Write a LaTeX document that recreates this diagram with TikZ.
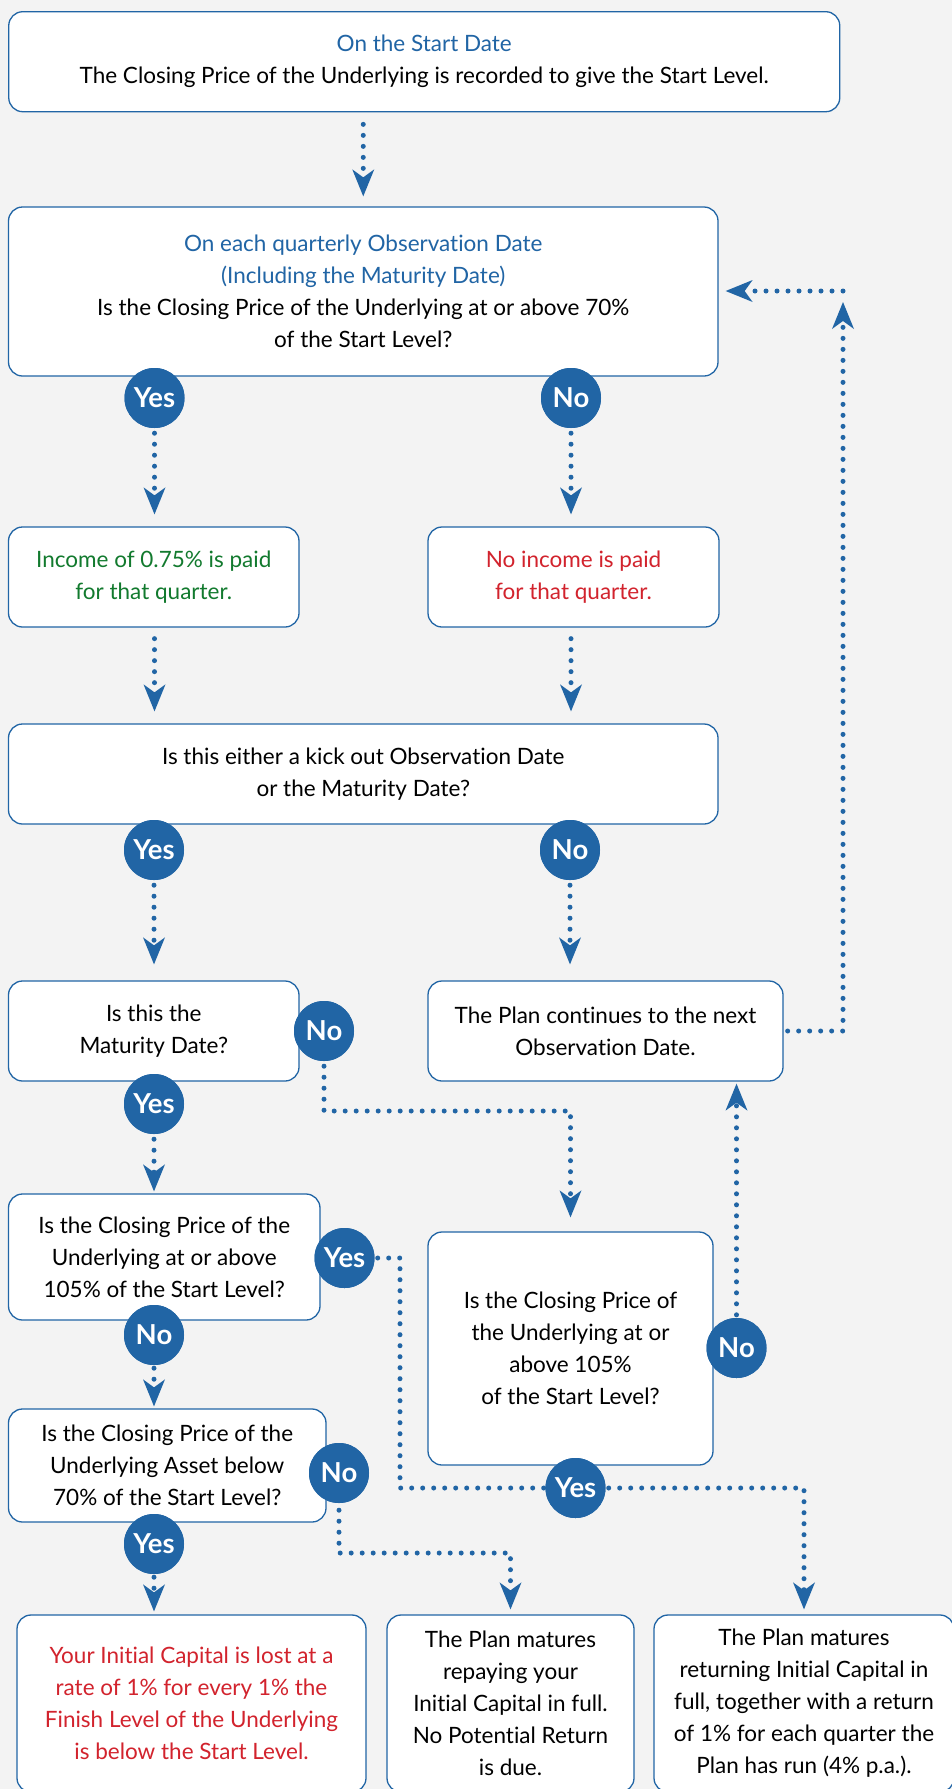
\documentclass[tikz,border=0pt]{standalone}
\usepackage{fontspec}
\setmainfont{Lato}[Ligatures=NoCommon]
\usetikzlibrary{arrows.meta,calc}
\definecolor{bg}{RGB}{243,243,243}
\definecolor{fblue}{RGB}{33,101,165}
\definecolor{fgreen}{RGB}{18,122,46}
\definecolor{fred}{RGB}{210,35,45}
\begin{document}
\begin{tikzpicture}[x=1pt,y=-1pt,
  box/.style={draw=fblue, fill=white, line width=1.3pt, rounded corners=14pt, align=center, inner sep=0pt, font=\fontsize{22.5}{32}\selectfont},
  yn/.style={circle, fill=fblue, text=white, minimum size=60pt, inner sep=0pt, font=\bfseries\fontsize{27.5}{27.5}\selectfont},
  dots/.style={draw=fblue, line width=5pt, line cap=round, dash pattern=on 0pt off 11pt},
  arr/.style={dots, -{Stealth[length=27pt,width=22pt,inset=8pt,line width=0pt]}},
]
\useasboundingbox (0,0) rectangle (952,1789);
\clip (0,0) rectangle (952,1789);
\fill[bg] (0,0) rectangle (952,1789);

% boxes
\node[box, minimum width=831pt, minimum height=100pt] (b1) at (424.25,61.7)
  {\textcolor{fblue}{On the Start Date}\\The Closing Price of the Underlying is recorded to give the Start Level.};
\node[box, minimum width=709.5pt, minimum height=169pt] (b2) at (363.25,291.5)
  {\textcolor{fblue}{On each quarterly Observation Date}\\\textcolor{fblue}{(Including the Maturity Date)}\\Is the Closing Price of the Underlying at or above 70\%\\of the Start Level?};
\node[box, text=fgreen, minimum width=290.5pt, minimum height=100pt] (b3) at (153.75,577)
  {Income of 0.75\% is paid\\for that quarter.};
\node[box, text=fred, minimum width=291pt, minimum height=100pt] (b4) at (573.5,577)
  {No income is paid\\for that quarter.};
\node[box, minimum width=709.5pt, minimum height=100pt] (b5) at (363.25,774)
  {Is this either a kick out Observation Date\\or the Maturity Date?};
\node[box, minimum width=290.5pt, minimum height=100pt] (b6) at (153.75,1031)
  {Is this the\\Maturity Date?};
\node[box, minimum width=355pt, minimum height=100pt] (b7) at (605.5,1031)
  {The Plan continues to the next\\Observation Date.};
\node[box, minimum width=311.5pt, minimum height=126pt] (b8) at (164.25,1257)
  {Is the Closing Price of the\\Underlying at or above\\105\% of the Start Level?};
\node[box, minimum width=285pt, minimum height=233pt] (b9) at (570.5,1348.5)
  {Is the Closing Price of\\the Underlying at or\\above 105\%\\of the Start Level?};
\node[box, minimum width=317.5pt, minimum height=113pt] (b10) at (167.25,1465.5)
  {Is the Closing Price of the\\Underlying Asset below\\70\% of the Start Level?};
\node[box, text=fred, minimum width=349pt, minimum height=177pt] (b11) at (191.5,1703.5)
  {Your Initial Capital is lost at a\\rate of 1\% for every 1\% the\\Finish Level of the Underlying\\is below the Start Level.};
\node[box, minimum width=247pt, minimum height=177pt] (b12) at (510.5,1703.5)
  {The Plan matures\\repaying your\\Initial Capital in full.\\No Potential Return\\is due.};
\node[box, minimum width=300pt, minimum height=177pt] (b13) at (804,1703.5)
  {The Plan matures\\returning Initial Capital in\\full, together with a return\\of 1\% for each quarter the\\Plan has run (4\% p.a.).};

% decision circles
\node[yn] (y1) at (154.5,398) {Yes};
\node[yn] (n1) at (571,398) {No};
\node[yn] (y2) at (154,850) {Yes};
\node[yn] (n2) at (570,850) {No};
\node[yn] (n3) at (324,1031) {No};
\node[yn] (y3) at (154,1104) {Yes};
\node[yn] (y4) at (344.5,1258) {Yes};
\node[yn] (n4) at (154,1335) {No};
\node[yn] (n5) at (736.5,1348) {No};
\node[yn] (y5) at (575.5,1488) {Yes};
\node[yn] (n6) at (339,1473) {No};
\node[yn] (y6) at (154,1544) {Yes};

% connectors
\coordinate (cr) at (843,291);
\coordinate (k1) at (324,1111);
\coordinate (k2) at (400,1488);
\coordinate (k3) at (339,1553);

\draw[arr, shorten <=12pt, shorten >=10pt] (b1.south -| b2.north) -- (b2.north);
\draw[arr, shorten <=5pt, shorten >=12pt] (y1.south) -- (y1.south |- b3.north);
\draw[arr, shorten <=5pt, shorten >=12pt] (n1.south) -- (n1.south |- b4.north);
\draw[arr, shorten <=11pt, shorten >=12pt] (y1.south |- b3.south) -- (y1.south |- b5.north);
\draw[arr, shorten <=11pt, shorten >=12pt] (n1.south |- b4.south) -- (n1.south |- b5.north);
\draw[arr, shorten <=5pt, shorten >=16pt] (y2.south) -- (y2.south |- b6.north);
\draw[arr, shorten <=5pt, shorten >=16pt] (n2.south) -- (n2.south |- b7.north);
\draw[arr, shorten <=4pt, shorten >=11pt] (b7.east) -| (cr);
\draw[arr, shorten >=7pt] (cr) -- (cr -| b2.east);
\draw[arr, shorten <=5pt, shorten >=14pt] (n3.south) -- (k1) -| (b9.north);
\draw[arr, shorten <=5pt, shorten >=2pt] (y3.south) -- (y3.south |- b8.north);
\draw[dots, shorten <=3pt] (y4.east) -| (k2) -- (y5.west);
\draw[arr, shorten <=3pt, shorten >=5pt] (y5.east) -| (b13.north);
\draw[arr, shorten <=3pt, shorten >=2pt] (n5.north) -- (n5.north |- b7.south);
\draw[arr, shorten <=3pt, shorten >=2pt] (n4.south) -- (n4.south |- b10.north);
\draw[arr, shorten <=7pt, shorten >=5pt] (n6.south) -- (k3) -| (b12.north);
\draw[arr, shorten <=3pt, shorten >=3pt] (y6.south) -- (y6.south |- b11.north);

% circles redrawn on top of the connector ends
\foreach \c/\t in {y1/Yes,n1/No,y2/Yes,n2/No,n3/No,y3/Yes,y4/Yes,n4/No,n5/No,y5/Yes,n6/No,y6/Yes}
  \node[yn] at (\c.center) {\t};
\end{tikzpicture}
\end{document}
